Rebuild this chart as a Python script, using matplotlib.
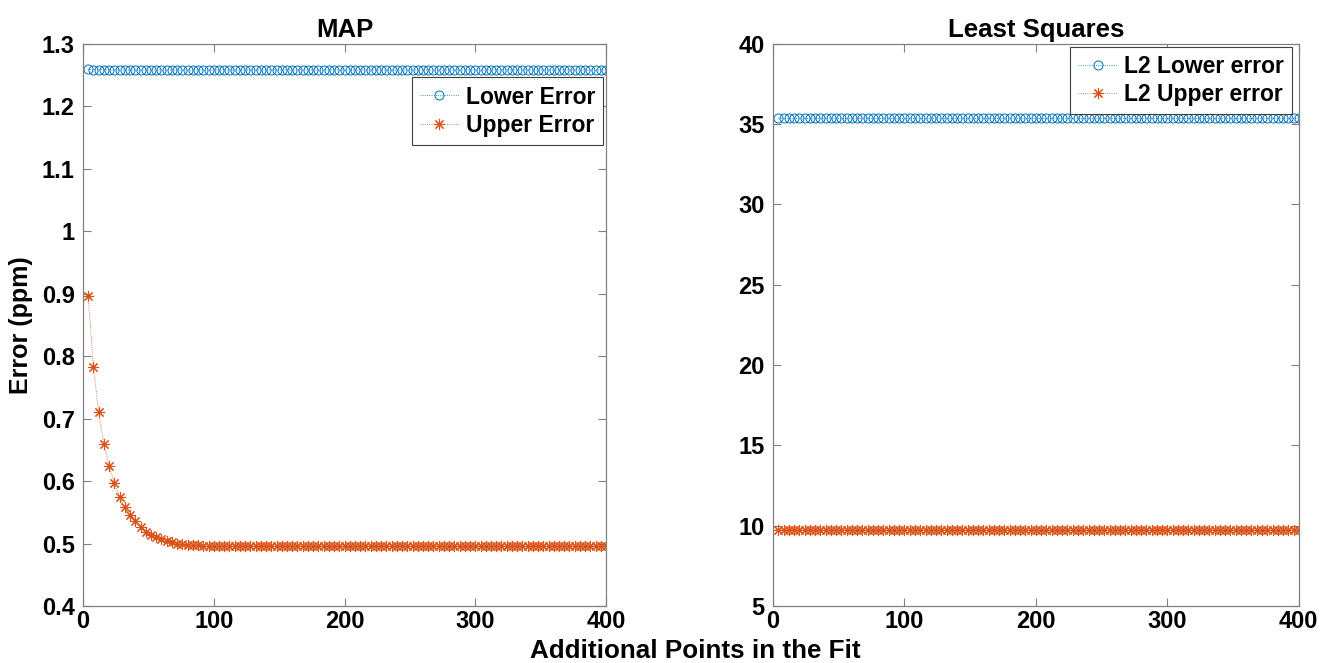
import numpy as np
import matplotlib.pyplot as plt

plt.rcParams['font.family'] = ['Liberation Sans', 'DejaVu Sans']
plt.rcParams['font.weight'] = 'bold'

# additional points: 4, 8, ..., 400
points = np.arange(4, 401, 4)

# MAP errors (ppm)
map_lower = [1.259, 1.2585, 1.2585, 1.2585] + [1.258] * 96
map_upper = [0.8955, 0.7825, 0.710, 0.659, 0.624, 0.597, 0.574, 0.558, 0.545, 0.536,
             0.527, 0.519, 0.513, 0.510, 0.507, 0.504, 0.502, 0.500, 0.499, 0.498,
             0.4975, 0.497, 0.4965, 0.496, 0.4958, 0.4956] + [0.4955] * 74

# Least squares errors (ppm)
ls_lower = [35.4] * 100
ls_upper = [9.7] * 100

BLUE = '#0072BD'
ORANGE = '#D95319'

fig = plt.figure(figsize=(13.21, 6.63), dpi=100)
ax1 = fig.add_axes([0.0628, 0.086, 0.396, 0.848])
ax2 = fig.add_axes([0.5852, 0.086, 0.398, 0.848])


def dibujar(ax, y_low, y_up, lab_low, lab_up, ancla):
    ax.plot(points, y_low, linestyle=':', linewidth=0.6, color=BLUE, marker='o',
            markersize=6.5, markerfacecolor='none', markeredgewidth=0.7, label=lab_low)
    ax.plot(points, y_up, linestyle=':', linewidth=0.6, color=ORANGE, marker=(8, 2, 0),
            markersize=8, markeredgewidth=0.8, label=lab_up)
    ax.set_xlim(0, 400)
    ax.set_xticks([0, 100, 200, 300, 400])
    ax.tick_params(direction='in', top=True, right=True, length=6, width=0.8,
                   color='#808080', labelsize=17)
    ax.tick_params(axis='x', pad=3)
    ax.tick_params(axis='y', pad=6)
    for s in ax.spines.values():
        s.set_color('#808080')
        s.set_linewidth(0.9)
    leg = ax.legend(loc='upper right', bbox_to_anchor=ancla, fontsize=16.5, fancybox=False,
                    framealpha=1, edgecolor='#404040', handlelength=1.7, borderpad=0.35,
                    labelspacing=0.25, handletextpad=0.3, borderaxespad=0)
    leg.get_frame().set_linewidth(0.8)


dibujar(ax1, map_lower, map_upper, 'Lower Error', 'Upper Error', (0.994, 0.94))
ax1.set_ylim(0.4, 1.3)
ax1.set_yticks([0.4, 0.5, 0.6, 0.7, 0.8, 0.9, 1.0, 1.1, 1.2, 1.3])
ax1.set_yticklabels(['0.4', '0.5', '0.6', '0.7', '0.8', '0.9', '1', '1.1', '1.2', '1.3'])
ax1.set_title('MAP', fontsize=18.5, fontweight='bold', pad=5)
ax1.set_ylabel('Error (ppm)', fontsize=18, fontweight='bold', labelpad=6)

dibujar(ax2, ls_lower, ls_upper, 'L2 Lower error', 'L2 Upper error', (0.987, 0.995))
ax2.set_ylim(5, 40)
ax2.set_yticks([5, 10, 15, 20, 25, 30, 35, 40])
ax2.set_title('Least Squares', fontsize=18.5, fontweight='bold', pad=5)

fig.text(0.526, 0.0, 'Additional Points in the Fit', ha='center', va='bottom',
         fontsize=18.7, fontweight='bold')

plt.savefig('out.png', dpi=100)
